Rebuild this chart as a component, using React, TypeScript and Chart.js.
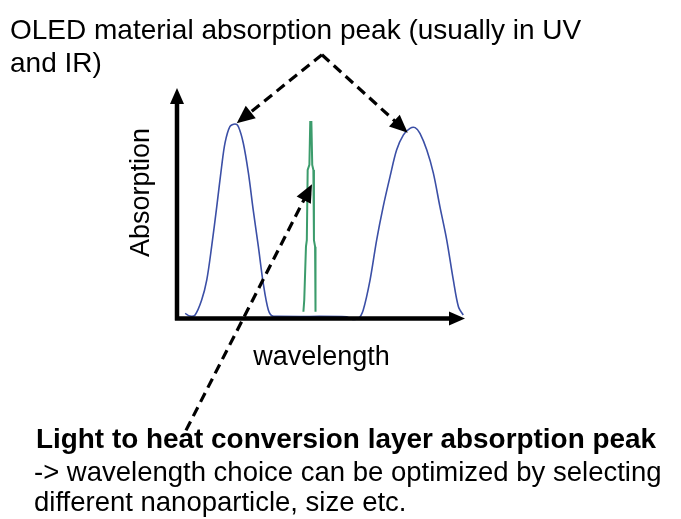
import React, { useEffect, useRef } from "react";
import { Chart, registerables } from "chart.js";

Chart.register(...registerables);

// Blue curve: OLED material absorption (two peaks, UV and IR)
const oledX = [2.5, 4.2, 6.0, 8.3, 10.1, 11.8, 13.6, 15.3, 16.5, 18.2, 20.0, 21.2, 22.9, 24.7, 26.4, 28.2, 29.9, 31.7, 33.4, 59.2, 60.9, 63.3, 65.0, 67.4, 69.7, 72.0, 74.4, 76.7, 79.1, 81.4, 83.2, 84.9, 87.3, 89.6, 91.9, 94.3, 96.6, 98.4, 100.1, 101.2];
const oledY = [1.6, 0.4, 0.9, 7.4, 16.2, 30.7, 48.2, 65.6, 76.0, 83.1, 84.3, 83.1, 76.0, 62.9, 46.7, 30.7, 14.8, 3.1, 0.4, 0.1, -1.0, -0.6, 3.1, 16.2, 33.6, 48.2, 61.3, 72.9, 79.5, 82.4, 82.7, 80.2, 72.9, 62.8, 48.2, 33.6, 16.2, 4.5, 0.9, -0.4];

// Green curve: light-to-heat conversion layer narrow absorption peak (outline)
const lthcX = [44.0, 44.3, 44.9, 45.2, 45.5, 46.1, 46.4, 46.8, 47.1, 47.5, 47.7, 48.1, 48.2, 48.3];
const lthcY = [2.3, 7.4, 30.7, 33.6, 64.2, 66.4, 85.1, 85.1, 66.4, 64.2, 33.6, 30.7, 7.4, 2.3];

// Annotation arrows (data units)
const arrowApex = [50.5, 114.5];
const arrowTargets = [
  [20.6, 84.6],
  [80.6, 80.5],
];
const arrowBottom = [2.8, -49.5, 47.0, 58.0];

const topLines = ["OLED material absorption peak (usually in UV", "and IR)"];
const xTitle = "wavelength";
const yTitle = "Absorption";
const bottomBold = "Light to heat conversion layer absorption peak";
const bottomLines = ["-> wavelength choice can be optimized by selecting", "different nanoparticle, size etc."];

const FONT = "'Liberation Sans', Arial, Helvetica, sans-serif";

function drawArrowHead(ctx: CanvasRenderingContext2D, x1: number, y1: number, x2: number, y2: number, len: number, half: number) {
  const a = Math.atan2(y2 - y1, x2 - x1);
  ctx.save();
  ctx.setLineDash([]);
  ctx.beginPath();
  ctx.moveTo(x2, y2);
  ctx.lineTo(x2 - len * Math.cos(a) + half * Math.sin(a), y2 - len * Math.sin(a) - half * Math.cos(a));
  ctx.lineTo(x2 - len * Math.cos(a) - half * Math.sin(a), y2 - len * Math.sin(a) + half * Math.cos(a));
  ctx.closePath();
  ctx.fill();
  ctx.restore();
}

const decorPlugin = {
  id: "decor",
  afterDatasetsDraw(chart: any) {
    const { ctx, chartArea, scales } = chart;
    const xs = scales.x;
    const ys = scales.y;
    const ox = chartArea.left - 1;
    const oy = chartArea.bottom + 1.5;
    ctx.save();
    ctx.fillStyle = "#000";
    ctx.strokeStyle = "#000";

    // axes with arrows
    ctx.lineWidth = 4.5;
    ctx.lineCap = "butt";
    ctx.beginPath();
    ctx.moveTo(ox, oy + 2);
    ctx.lineTo(ox, chartArea.top + 10);
    ctx.moveTo(ox - 2, oy);
    ctx.lineTo(chartArea.right - 8, oy);
    ctx.stroke();
    drawArrowHead(ctx, ox, oy, ox, chartArea.top, 16, 7);
    drawArrowHead(ctx, ox, oy, chartArea.right + 2, oy, 16, 7);

    // dashed arrows
    ctx.lineWidth = 3.2;
    ctx.setLineDash([10, 6]);
    const ax = xs.getPixelForValue(arrowApex[0]);
    const ay = ys.getPixelForValue(arrowApex[1]);
    for (const t of arrowTargets) {
      const tx = xs.getPixelForValue(t[0]);
      const ty = ys.getPixelForValue(t[1]);
      const a = Math.atan2(ty - ay, tx - ax);
      ctx.beginPath();
      ctx.moveTo(ax, ay);
      ctx.lineTo(tx - 14 * Math.cos(a), ty - 14 * Math.sin(a));
      ctx.stroke();
      drawArrowHead(ctx, ax, ay, tx, ty, 18, 8);
    }
    {
      const fx = xs.getPixelForValue(arrowBottom[0]);
      const fy = ys.getPixelForValue(arrowBottom[1]);
      const tx = xs.getPixelForValue(arrowBottom[2]);
      const ty = ys.getPixelForValue(arrowBottom[3]);
      const a = Math.atan2(ty - fy, tx - fx);
      ctx.beginPath();
      ctx.moveTo(fx, fy);
      ctx.lineTo(tx - 14 * Math.cos(a), ty - 14 * Math.sin(a));
      ctx.stroke();
      drawArrowHead(ctx, fx, fy, tx, ty, 18, 8);
    }
    ctx.setLineDash([]);

    // texts
    ctx.textBaseline = "alphabetic";
    ctx.textAlign = "left";
    ctx.font = `28px ${FONT}`;
    ctx.fillText(topLines[0], 10, 39);
    ctx.fillText(topLines[1], 10, 72);

    ctx.font = `27px ${FONT}`;
    ctx.textAlign = "center";
    ctx.fillText(xTitle, (chartArea.left + chartArea.right) / 2 + 1, chartArea.bottom + 48);

    ctx.save();
    ctx.translate(chartArea.left - 29, (chartArea.top + chartArea.bottom) / 2 - 10);
    ctx.rotate(-Math.PI / 2);
    ctx.fillText(yTitle, 0, 0);
    ctx.restore();

    ctx.textAlign = "left";
    ctx.font = `bold 28px ${FONT}`;
    ctx.fillText(bottomBold, 36, 448, 620);
    ctx.font = `27.5px ${FONT}`;
    ctx.fillText(bottomLines[0], 34, 481);
    ctx.fillText(bottomLines[1], 34, 511);
    ctx.restore();
  },
};

export default function App() {
  const ref = useRef<HTMLCanvasElement | null>(null);
  useEffect(() => {
    if (!ref.current) return;
    const chart = new Chart(ref.current, {
      type: "scatter",
      data: {
        datasets: [
          {
            label: "OLED material absorption",
            data: oledX.map((x, i) => ({ x, y: oledY[i] })),
            showLine: true,
            borderColor: "#3b4fa6",
            borderWidth: 1.6,
            pointRadius: 0,
            tension: 0.3,
            fill: false,
            clip: false as any,
          },
          {
            label: "Light to heat conversion layer",
            data: lthcX.map((x, i) => ({ x, y: lthcY[i] })),
            showLine: true,
            borderColor: "#3c9c6c",
            borderWidth: 2,
            pointRadius: 0,
            tension: 0,
            fill: false,
            clip: false as any,
          },
        ],
      },
      options: {
        responsive: false,
        animation: false,
        layout: { padding: { left: 178, right: 218, top: 88, bottom: 202 } },
        scales: {
          x: { type: "linear", min: 0, max: 100, display: false },
          y: { type: "linear", min: 0, max: 100, display: false },
        },
        plugins: {
          legend: { display: false },
          tooltip: { enabled: false },
          title: { display: false },
        },
      },
      plugins: [decorPlugin],
    });
    return () => chart.destroy();
  }, []);
  return (
    <canvas
      ref={ref}
      width={681}
      height={519}
      style={{ position: "absolute", left: 0, top: 0, display: "block", background: "#fff" }}
    />
  );
}
